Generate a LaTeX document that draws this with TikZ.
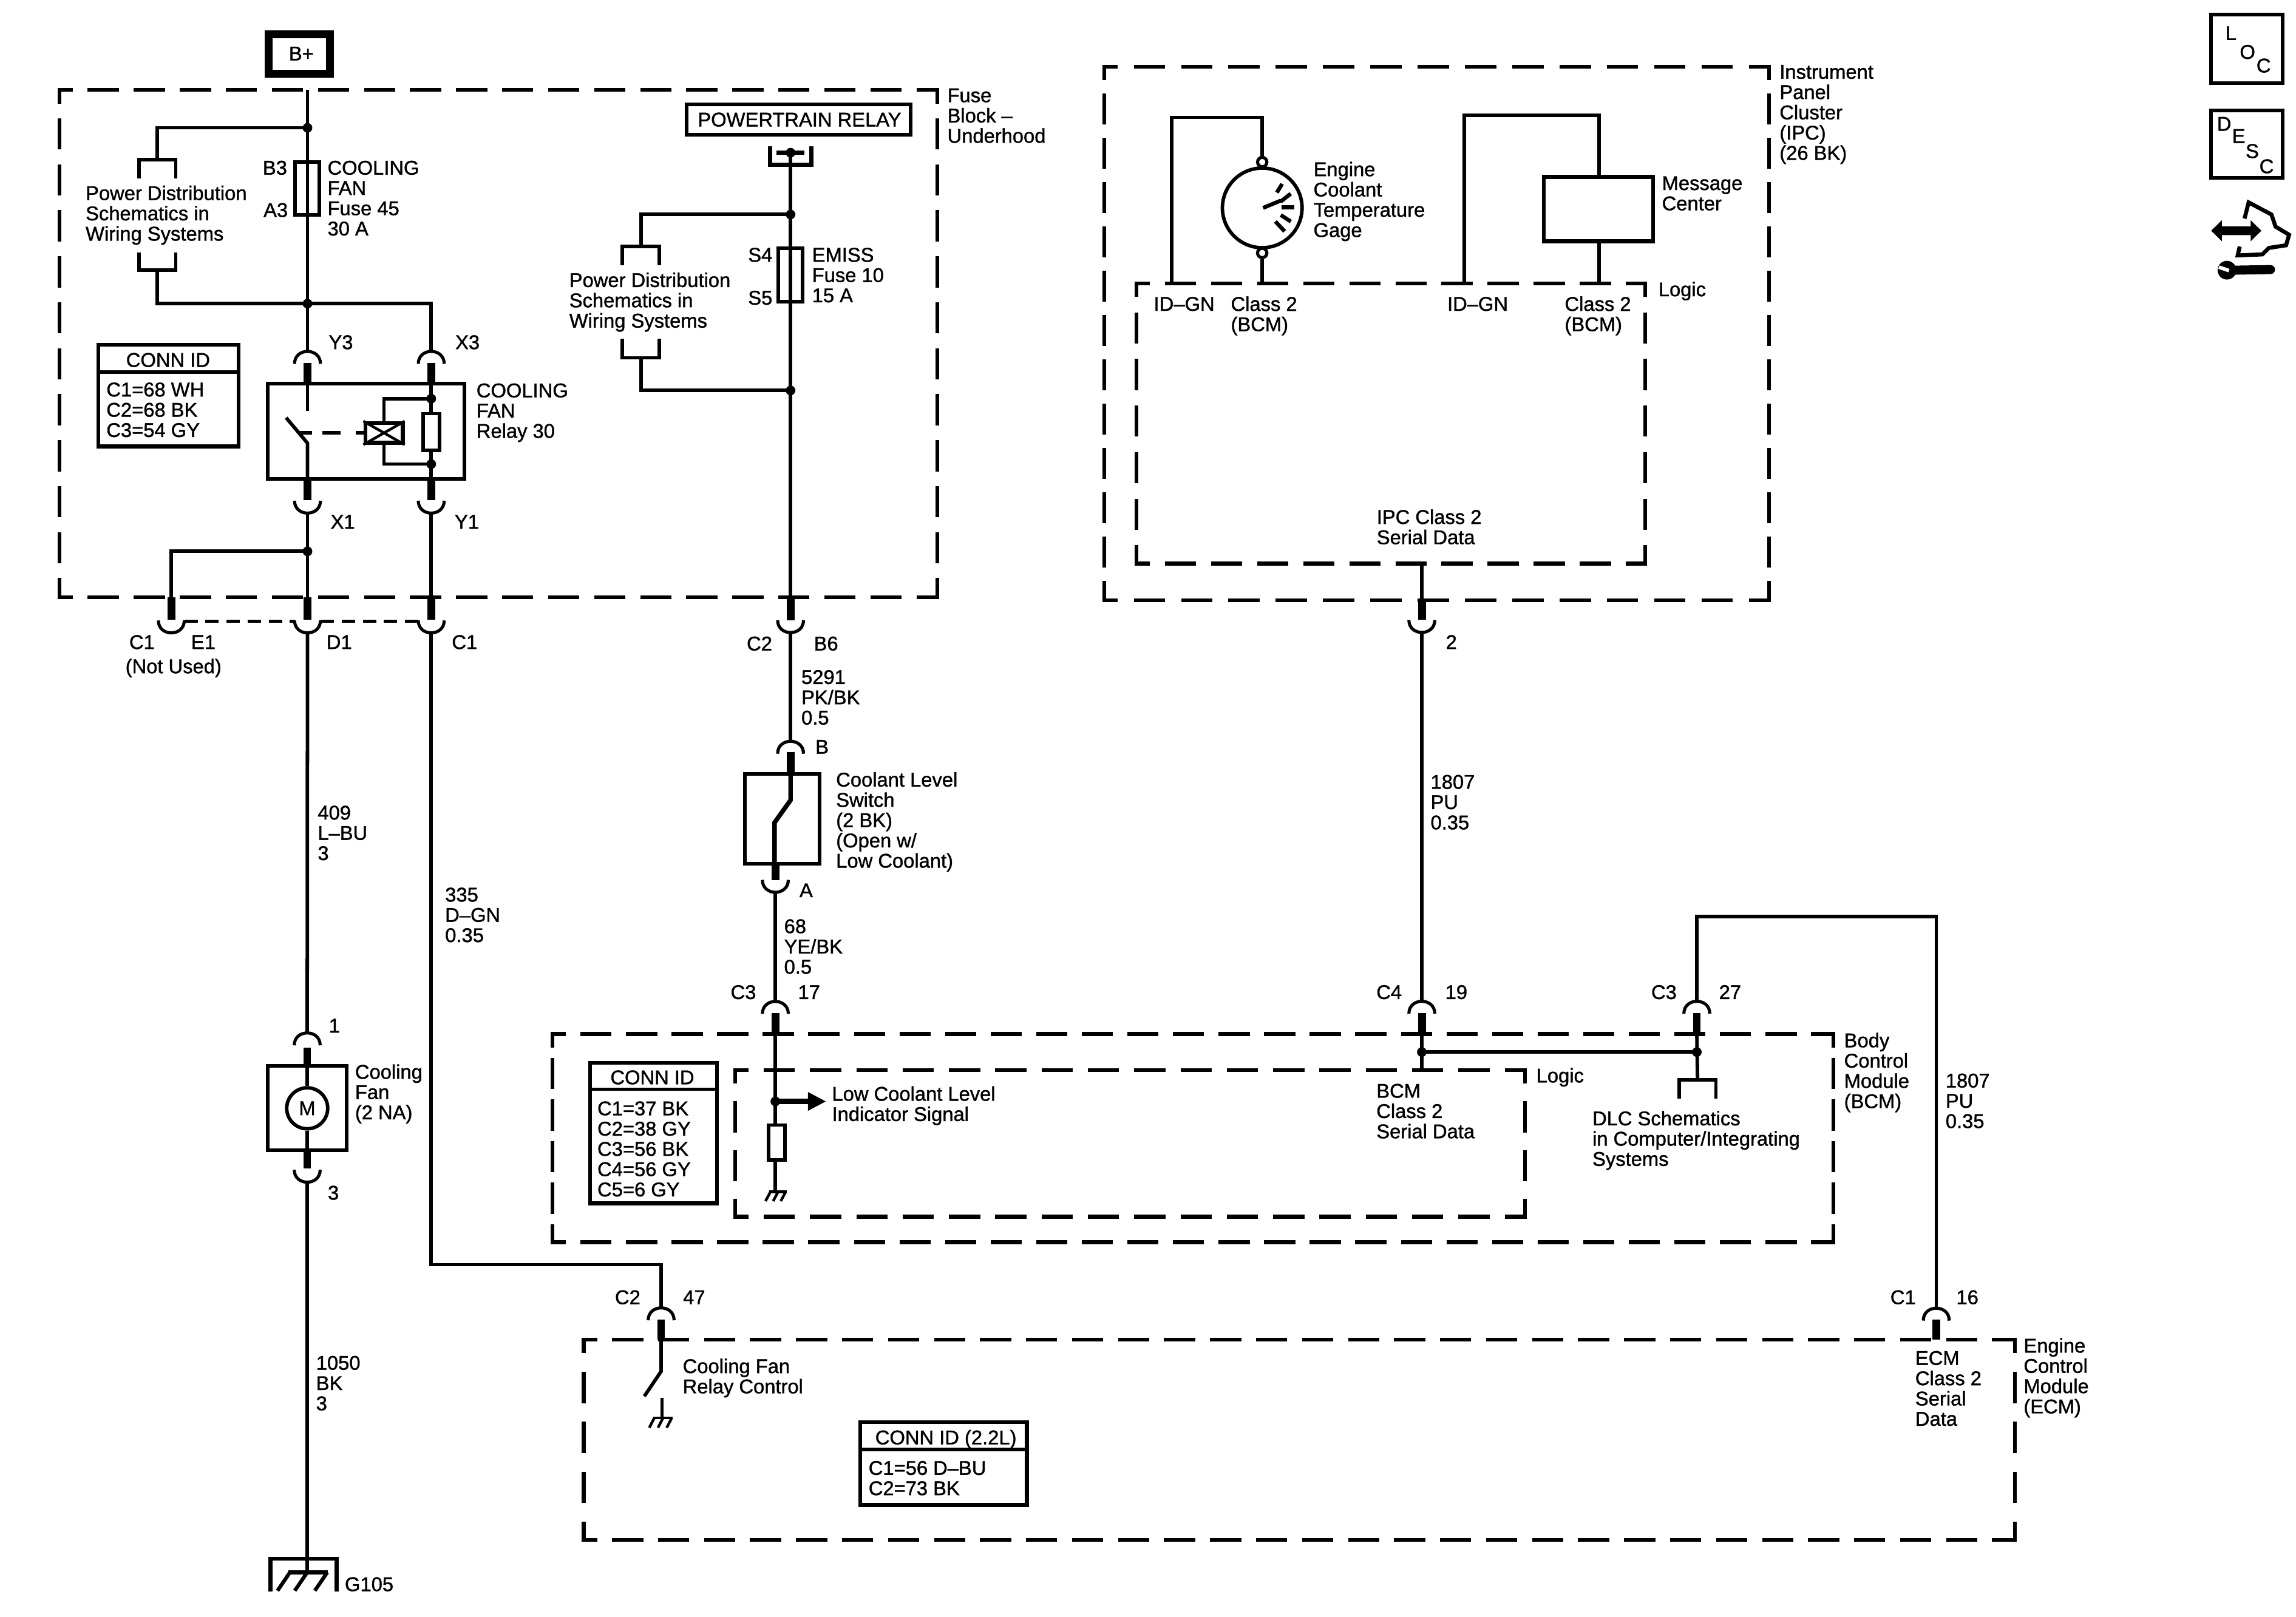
\documentclass[tikz,border=0pt]{standalone}
\usepackage{fontspec}
\setmainfont{Liberation Sans}[FakeBold=1.2]
\usetikzlibrary{arrows.meta,calc}
\tikzset{
  lbl/.style={anchor=north west,inner sep=0pt,outer sep=0pt,align=left,font=\fontsize{19.3}{19.7}\selectfont},
  lblc/.style={anchor=north,inner sep=0pt,outer sep=0pt,align=center,font=\fontsize{19.3}{19.7}\selectfont},
  wire/.style={line width=3.4pt,line join=miter,black},
  archw/.style={line width=3pt,black},
  stubw/.style={line width=7.6pt,black},
  dashw/.style={line width=3.7pt,black},
  box/.style={draw,line width=3.6pt,black},
  tbox/.style={draw,line width=3.8pt,black},
  ground/.style={line width=2.6pt,black},
}
\newcommand{\lbl}[4]{\node[lbl] (#1) at (#2,#3) {\rule{0pt}{13.9pt}#4};}
\newcommand{\lblc}[4]{\node[lblc] (#1) at (#2,#3) {\rule{0pt}{13.9pt}#4};}
\newcommand{\rbox}[6]{%
  \pgfmathsetmacro\rw{(#5-#3)*0.05}\pgfmathsetmacro\rh{(#6-#4)*0.05}%
  \node[#1,minimum width=\rw cm,minimum height=\rh cm,inner sep=0pt] (#2) at ({(#3+#5)/2},{(#4+#6)/2}) {};}
\newcommand{\archup}[3]{\coordinate (#1) at (#2,#3-8.5);
  \draw[archw] (#2-8.85,#3) .. controls (#2-8.85,#3-11.3) and (#2+8.85,#3-11.3) .. (#2+8.85,#3);}
\newcommand{\archdn}[3]{\coordinate (#1) at (#2,#3+8.5);
  \draw[archw] (#2-8.85,#3) .. controls (#2-8.85,#3+11.3) and (#2+8.85,#3+11.3) .. (#2+8.85,#3);}
\newcommand{\stub}[3]{\draw[stubw] (#1,#2) -- (#1,#3);}
\newcommand{\brk}[5]{\coordinate (#1) at ({(#2+#3)/2},#4);
  \draw[wire] (#2,#5) -- (#2,#4) -- (#3,#4) -- (#3,#5);}
\newcommand{\jdot}[1]{\fill (#1) circle[radius=0.165cm];}
% one side of a dashed outline: a short dash at each end
\newcommand{\dside}[4]{%
  \pgfmathsetmacro\dlen{veclen(#3-#1,#4-#2)*1.4173}%
  \pgfmathsetmacro\dk{round((\dlen-30+30.3)/44.7)}%
  \pgfmathsetmacro\doff{(\dlen-30-(\dk-1)*30.3)/\dk}%
  \draw[dashw,dash pattern=on 30.3pt off \doff pt,dash phase=15.3pt] (#1,#2) -- (#3,#4);}
\newcommand{\dbox}[4]{%
  \dside{#1-1.3}{#2}{#3+1.3}{#2}\dside{#1-1.3}{#4}{#3+1.3}{#4}%
  \dside{#1}{#2-1.3}{#1}{#4+1.3}\dside{#3}{#2-1.3}{#3}{#4+1.3}}
\newcommand{\gnd}[4]{% x1 x2 y slant-length
  \draw[ground] (#1,#3) -- (#2,#3);
  \draw[ground] (#1+0.8,#3) -- (#1-2.6,#3+#4);
  \draw[ground] ({(#1+#2)/2},#3) -- ({(#1+#2)/2-3.4},#3+#4);
  \draw[ground] (#2-0.8,#3) -- (#2-4.2,#3+#4);}
\begin{document}
\begin{tikzpicture}[x=0.05cm,y=-0.05cm]
\useasboundingbox (0,0) rectangle (1568,1104.48);
\fill[white] (0,0) rectangle (1568,1104.48);

% ---------- outlines
\dbox{40.5}{61.5}{640}{408}
\dbox{754}{45.6}{1208}{410}
\dbox{776}{193.6}{1123.6}{385}
\dbox{377.3}{706.2}{1252}{848.5}
\dbox{502}{731}{1041.5}{831}
\dbox{398.6}{915}{1376}{1051.7}

% ---------- B+ and fuse 45 branch
\rbox{draw,line width=7.5pt}{bplus}{183.5}{23.3}{225.4}{50.4}
\node[inner sep=0pt,font=\fontsize{19.3}{19.7}\selectfont] (bplustxt) at (205.8,36.6) {B+};
\coordinate (btop) at (210,61.5);
\coordinate (j1) at (210,87.3);
\coordinate (j2) at (210,207.4);
\archup{y3}{210}{248.5}
\archup{x3}{294.5}{248.5}
\brk{pdat}{95}{120}{108.9}{121.7}
\brk{pdab}{95}{120}{184.6}{172.5}
\draw[wire] (btop) -- (j1) -- (j2) -- (y3);
\draw[wire] (j1) -| (pdat);
\draw[wire] (pdab) |- (j2);
\draw[wire] (j2) -| (x3);
\jdot{j1}\jdot{j2}
\rbox{box}{fuse45}{201.4}{110.7}{218}{146.8}

% ---------- relay
\stub{210}{248}{262}
\stub{294.5}{248}{262}
\rbox{box}{relay}{182.7}{262.2}{317}{327}
\coordinate (swa) at (210,280.5);
\coordinate (swb) at (210,302.7);
\coordinate (swc) at (195.4,285.3);
\coordinate (rlb) at (210,327);
\draw[wire] (relay.north -| swa) -- (swa);
\draw[wire] (swc) -- (swb) -- (rlb);
\draw[wire] (204.7,295.7) -- (213,295.7);
\draw[wire] (220,295.7) -- (232.4,295.7);
\draw[wire] (243,295.7) -- (249,295.7);
\rbox{draw,line width=3.8pt}{coil}{249.5}{289}{275}{302.4}
\draw[line width=2.6pt] (coil.north west) -- (coil.south east);
\draw[line width=2.6pt] (coil.south west) -- (coil.north east);
\coordinate (r1) at (294.5,272.3);
\coordinate (r2) at (294.5,317);
\coordinate (rt) at (294.5,262);
\coordinate (rb) at (294.5,327);
\draw[wire] (coil.north) |- (r1);
\draw[wire] (coil.south) |- (r2);
\draw[wire] (rt) -- (rb);
\jdot{r1}\jdot{r2}
\rbox{draw,fill=white,line width=3.2pt}{res30}{289}{282.6}{300.2}{307.6}
\stub{210}{327}{341.5}
\stub{294.5}{327}{341.5}
\archdn{x1}{210}{342}
\archdn{y1}{294.5}{342}

% ---------- lower splice and pins
\coordinate (j3) at (210,376.6);
\stub{117}{408}{423.4}
\stub{210}{408}{423.4}
\stub{294.5}{408}{423.4}
\archdn{e1}{117}{423.8}
\archdn{d1}{210}{423.8}
\archdn{c1r}{294.5}{423.8}
\coordinate (e1s) at (117,408);
\coordinate (d1s) at (210,408);
\coordinate (c1s) at (294.5,408);
\draw[wire] (x1) -- (d1s);
\draw[wire] (j3) -| (e1s);
\draw[wire] (y1) -- (c1s);
\jdot{j3}
\coordinate (da) at (125.9,424.3);
\coordinate (db) at (201.1,424.3);
\coordinate (dc) at (218.9,424.3);
\coordinate (dd) at (285.6,424.3);
\draw[line width=3.4pt,dash pattern=on 13pt off 7.5pt] (da) -- (db);
\draw[line width=3.4pt,dash pattern=on 13pt off 7.5pt] (dc) -- (dd);

% ---------- cooling fan
\archup{fan1}{209.8}{714}
\stub{209.8}{715.6}{727}
\draw[wire] (d1) -- (fan1);
\rbox{box}{fan}{182.7}{728.2}{236.8}{785.6}
\node[draw,circle,line width=3.4pt,minimum size=1.4cm,inner sep=0pt,font=\fontsize{19.3}{19.7}\selectfont] (motor) at (209.8,757) {M};
\coordinate (ft) at (209.8,728);
\coordinate (fb) at (209.8,786);
\draw[wire] (ft) -- (motor.north);
\draw[wire] (motor.south) -- (fb);
\stub{209.8}{786}{798}
\archdn{fan3}{209.8}{799}
\coordinate (gtop) at (209.8,1074);
\draw[wire] (fan3) -- (gtop);
\draw[line width=3.9pt] (184.8,1087) -- (184.8,1064.7) -- (229.8,1064.7) -- (229.8,1087);
\draw[line width=3.6pt] (197,1074) -- (224,1074);
\draw[line width=3.6pt] (198,1074) -- (189.5,1086.5);
\draw[line width=3.6pt] (209.8,1074) -- (201.3,1086.5);
\draw[line width=3.6pt] (223.5,1074) -- (215,1086.5);

% ---------- relay control wire
\archup{c47}{451.5}{901.8}
\stub{451.5}{901.4}{915}
\coordinate (cc) at (294.5,863.8);
\coordinate (cd) at (451.5,863.8);
\draw[wire] (c1r) -- (cc) -- (cd) -- (c47);
\coordinate (csa) at (451.5,915);
\coordinate (csb) at (451.5,936.7);
\coordinate (csc) at (440,953.7);
\draw[wire] (csa) -- (csb) -- (csc);
\coordinate (csd) at (452,955);
\coordinate (cse) at (452,968.6);
\draw[wire,line width=2.8pt] (csd) -- (cse);
\gnd{446}{459.5}{968.6}{6.6}

% ---------- powertrain relay branch
\rbox{box}{ptr}{469}{71.3}{622}{91.9}
\node[inner sep=0pt,font=\fontsize{19.3}{19.7}\selectfont] (ptrtxt) at (546,81.7) {POWERTRAIN RELAY};
\draw[line width=3.9pt] (525.8,100) -- (525.8,112.6) -- (554.2,112.6) -- (554.2,100);
\draw[line width=3.9pt] (530.4,104.3) -- (549.3,104.3);
\coordinate (pt) at (539.9,104.3);
\coordinate (j4) at (539.9,146.5);
\coordinate (j5) at (539.9,266.7);
\coordinate (ps) at (539.9,410);
\draw[wire,line width=3.8pt] (pt) -- (j4) -- (j5) -- (ps);
\brk{pdct}{425}{450.4}{168.3}{181.3}
\brk{pdcb}{425}{450.4}{244.4}{231.5}
\draw[wire] (j4) -| (pdct);
\draw[wire] (pdcb) |- (j5);
\jdot{pt}\jdot{j4}\jdot{j5}
\rbox{box}{fuse10}{531.5}{169.7}{548}{205.9}
\stub{539.9}{409}{423.6}
\archdn{b6}{539.9}{423.6}
\archup{bb}{539.9}{514.8}
\draw[wire] (b6) -- (bb);
\stub{539.9}{513.8}{528}
\rbox{box}{cls}{508.8}{528.6}{559.6}{589.8}
\coordinate (cla) at (539.9,528);
\coordinate (clb) at (539.9,546.5);
\coordinate (clc) at (529,561.8);
\coordinate (cld) at (529,590);
\draw[wire,line width=4.4pt] (cla) -- (clb) -- (clc) -- (cld);
\stub{529.5}{590}{601}
\archdn{ca}{529.5}{601}
\archup{c17}{529.5}{692.5}
\draw[wire] (ca) -- (c17);
\stub{529.5}{692}{707}

% ---------- BCM inside
\coordinate (bi) at (529.5,707);
\coordinate (bj) at (529.5,752.3);
\coordinate (bk) at (529.5,813.9);
\coordinate (btip) at (564.2,752.3);
\draw[wire] (bi) -- (bj) -- (bk);
\jdot{bj}
\draw[line width=5pt,-{Triangle[length=17.7pt,width=16.9pt]}] (bj) -- (btip);
\rbox{draw,fill=white,line width=3.4pt}{bres}{525}{768.4}{536}{792.4}
\gnd{525.4}{537.4}{814}{6.4}

% ---------- IPC
\node[draw,circle,line width=3.4pt,minimum size=2.72cm,inner sep=0pt] (gage) at (862,142) {};
\node[draw,circle,fill=white,line width=3pt,minimum size=0.32cm,inner sep=0pt] (gt) at (862,110.7) {};
\node[draw,circle,fill=white,line width=3pt,minimum size=0.32cm,inner sep=0pt] (gb) at (862,172.8) {};
\coordinate (ga) at (800.2,193.6);
\coordinate (gc) at (800.2,80.2);
\coordinate (gd) at (862,80.2);
\coordinate (ge) at (862,193.6);
\draw[wire] (ga) -- (gc) -- (gd) -- (gt.north);
\draw[wire] (gb.south) -- (ge);
\draw[line width=3.8pt] (862.6,142) -- (874.7,137);
\draw[line width=3.8pt] (872,131.5) -- (875.6,125.6);
\draw[line width=3.8pt] (874.7,137.6) -- (881.5,132.3);
\draw[line width=3.8pt] (875.2,141.6) -- (884.1,141.6);
\draw[line width=3.8pt] (874.7,146.9) -- (881.5,151.3);
\draw[line width=3.8pt] (871,151.3) -- (877.3,158);
\rbox{draw,line width=4pt}{msg}{1054.3}{121}{1128.9}{164.8}
\coordinate (ma) at (1000,193.6);
\coordinate (mb) at (1000,78.8);
\coordinate (mc) at (1092,78.8);
\coordinate (md) at (1092,193.6);
\draw[wire] (ma) -- (mb) -- (mc) -- (msg.north -| mc);
\draw[wire] (msg.south -| md) -- (md);

% ---------- 1807 wires
\coordinate (ipco) at (971,385);
\coordinate (ipcp) at (971,410);
\draw[wire] (ipco) -- (ipcp);
\stub{971}{410}{423.5}
\archdn{c2p}{971}{423.5}
\archup{c19}{971}{692.4}
\draw[wire] (c2p) -- (c19);
\stub{971}{692}{707}
\archup{c27}{1158.8}{692.4}
\stub{1158.8}{692}{707}
\archup{c16}{1322.3}{902}
\stub{1322.3}{901.5}{915}
\coordinate (ta) at (1158.8,626);
\coordinate (tb) at (1322.3,626);
\draw[wire] (c27) -- (ta) -- (tb) -- (c16);
\coordinate (ha) at (971,718.6);
\coordinate (hb) at (1158.8,718.6);
\coordinate (hc) at (971,707);
\coordinate (hd) at (971,731);
\coordinate (he) at (1158.8,707);
\draw[wire] (hc) -- (hd);
\draw[wire] (ha) -- (hb);
\jdot{ha}\jdot{hb}
\brk{dlc}{1146.8}{1171.8}{737.4}{750.4}
\draw[wire] (he) -- (dlc);

% ---------- CONN ID tables
\rbox{draw,line width=3.8pt}{conn1}{67.2}{235.5}{162.9}{305}
\coordinate (c1l) at (67.2,254);
\draw[line width=3.4pt] (c1l) -- (c1l -| conn1.east);
\lblc{conn1t}{114.8}{240.8}{CONN ID}
\lbl{conn1b}{72.7}{261}{C1=68 WH\\C2=68 BK\\C3=54 GY}
\rbox{draw,line width=3.8pt}{conn2}{403}{726}{489.7}{822}
\coordinate (c2l) at (403,744);
\draw[line width=3.4pt] (c2l) -- (c2l -| conn2.east);
\lblc{conn2t}{445.5}{730.8}{CONN ID}
\lbl{conn2b}{408}{752}{C1=37 BK\\C2=38 GY\\C3=56 BK\\C4=56 GY\\C5=6 GY}
\rbox{draw,line width=3.8pt}{conn3}{587.4}{971.4}{701.3}{1028}
\coordinate (c3l) at (587.4,990);
\draw[line width=3.4pt] (c3l) -- (c3l -| conn3.east);
\lblc{conn3t}{646}{976.7}{CONN ID (2.2L)}
\lbl{conn3b}{593.2}{997.6}{C1=56 D–BU\\C2=73 BK}

% ---------- labels
\lbl{l1}{647}{60}{Fuse\\Block –\\Underhood}
\lbl{l2}{179.5}{109.5}{B3}
\lbl{l3}{180}{138.4}{A3}
\lbl{l4}{223.7}{109.5}{COOLING\\FAN\\Fuse 45\\30 A}
\lbl{l5}{58.5}{126.8}{Power Distribution\\Schematics in\\Wiring Systems}
\lbl{l6}{224.5}{228.7}{Y3}
\lbl{l7}{311}{228.7}{X3}
\lbl{l8}{325.4}{261.6}{COOLING\\FAN\\Relay 30}
\lbl{l9}{225.8}{351.3}{X1}
\lbl{l10}{310.5}{351.3}{Y1}
\lbl{l11}{88.3}{433.5}{C1}
\lbl{l12}{130.6}{433.5}{E1}
\lbl{l13}{85.7}{450}{(Not Used)}
\lbl{l14}{223}{433.5}{D1}
\lbl{l15}{308.6}{433.5}{C1}
\lbl{l16}{217}{550}{409\\L–BU\\3}
\lbl{l17}{304}{606}{335\\D–GN\\0.35}
\lbl{l18}{224.6}{695.5}{1}
\lbl{l19}{223.9}{809.6}{3}
\lbl{l20}{242.5}{727}{Cooling\\Fan\\(2 NA)}
\lbl{l21}{215.9}{925.8}{1050\\BK\\3}
\lbl{l22}{235.5}{1077}{G105}
\lbl{l23}{510.9}{169}{S4}
\lbl{l24}{510.9}{198.3}{S5}
\lbl{l25}{554.6}{169}{EMISS\\Fuse 10\\15 A}
\lbl{l26}{388.8}{186.2}{Power Distribution\\Schematics in\\Wiring Systems}
\lbl{l27}{510}{434.5}{C2}
\lbl{l28}{555.8}{434.5}{B6}
\lbl{l29}{547.3}{457.4}{5291\\PK/BK\\0.5}
\lbl{l30}{556.9}{505}{B}
\lbl{l31}{571}{527.4}{Coolant Level\\Switch\\(2 BK)\\(Open w/\\Low Coolant)}
\lbl{l32}{546}{603}{A}
\lbl{l33}{535.5}{627.6}{68\\YE/BK\\0.5}
\lbl{l34}{499}{672.6}{C3}
\lbl{l35}{545}{672.6}{17}
\lbl{l36}{568.2}{742}{Low Coolant Level\\Indicator Signal}
\lbl{l37}{940}{672.6}{C4}
\lbl{l38}{987}{672.6}{19}
\lbl{l39}{1127.7}{672.6}{C3}
\lbl{l40}{1174}{672.6}{27}
\lbl{l41}{1049.2}{729.5}{Logic}
\lbl{l42}{940}{740}{BCM\\Class 2\\Serial Data}
\lbl{l43}{1087.5}{758.8}{DLC Schematics\\in Computer/Integrating\\Systems}
\lbl{l44}{1259.4}{705.5}{Body\\Control\\Module\\(BCM)}
\lbl{l45}{1328.7}{733}{1807\\PU\\0.35}
\lbl{l46}{420}{881}{C2}
\lbl{l47}{466.5}{881}{47}
\lbl{l48}{466.3}{928}{Cooling Fan\\Relay Control}
\lbl{l49}{1291}{881}{C1}
\lbl{l50}{1336}{881}{16}
\lbl{l51}{1308}{922.5}{ECM\\Class 2\\Serial\\Data}
\lbl{l52}{1382}{914}{Engine\\Control\\Module\\(ECM)}
\lbl{l53}{1215.3}{44}{Instrument\\Panel\\Cluster\\(IPC)\\(26 BK)}
\lbl{l54}{897}{110.5}{Engine\\Coolant\\Temperature\\Gage}
\lbl{l55}{1135}{120}{Message\\Center}
\lbl{l56}{1132.6}{192.5}{Logic}
\lbl{l57}{788}{202.5}{ID–GN}
\lbl{l58}{840.6}{202.5}{Class 2\\(BCM)}
\lbl{l59}{988.4}{202.5}{ID–GN}
\lbl{l60}{1068.6}{202.5}{Class 2\\(BCM)}
\lbl{l61}{940.2}{348}{IPC Class 2\\Serial Data}
\lbl{l62}{977}{529}{1807\\PU\\0.35}
\lbl{l63}{987.4}{433.5}{2}

% ---------- side icons
\rbox{box}{loc}{1509.8}{10.1}{1559}{56.7}
\lbl{locl}{1519.8}{17.5}{L}
\lbl{loco}{1529.6}{30.4}{O}
\lbl{locc}{1541}{39.7}{C}
\rbox{box}{desc}{1509.8}{75.6}{1559}{121.6}
\lbl{descd}{1514}{79.5}{D}
\lbl{desce}{1524.3}{87.8}{E}
\lbl{descs}{1533.6}{98.1}{S}
\lbl{descc}{1543}{108.5}{C}
\begin{scope}[shift={(1492.5,0)},x=0.00691cm,y=-0.00691cm]
\fill (127,1140) -- (180,1088) -- (180,1118) -- (322,1118) -- (322,1088) -- (375,1140) -- (322,1192) -- (322,1162) -- (180,1162) -- (180,1192) -- cycle;
\draw[line width=3.9pt,line join=miter] (292,1080) -- (312,1000) -- (425,1060) -- (445,1120) -- (512,1160) -- (497,1212) -- (412,1225) -- (380,1257) -- (258,1262) -- (268,1218);
\fill (205,1335) circle[radius=0.32cm];
\draw[line width=8.8pt,line cap=round] (240,1335) -- (420,1332);
\draw[white,line width=3.5pt] (165,1320) -- (215,1337);
\end{scope}
\end{tikzpicture}
\end{document}
